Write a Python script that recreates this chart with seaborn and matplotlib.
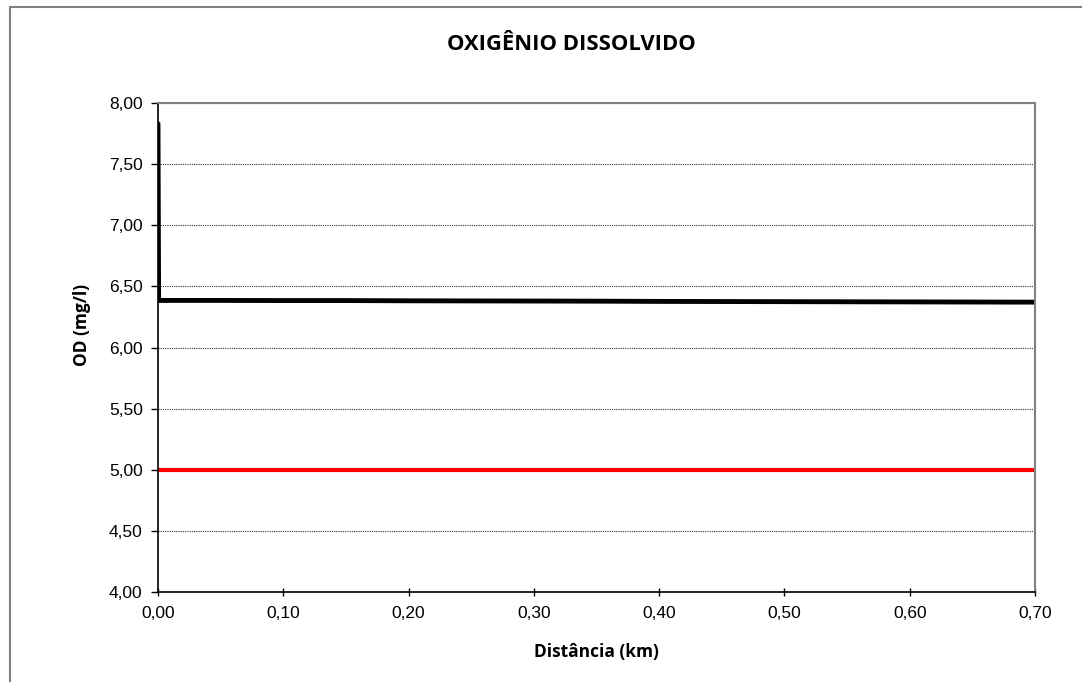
import matplotlib
matplotlib.use('Agg')
import matplotlib.pyplot as plt
import seaborn as sns
import pandas as pd
from matplotlib.ticker import FuncFormatter, MultipleLocator
from matplotlib.lines import Line2D

# Data
distancia = [0.0, 0.0005, 0.05, 0.10, 0.15, 0.20, 0.25, 0.30, 0.35, 0.40,
             0.45, 0.50, 0.55, 0.60, 0.65, 0.70]
od = [7.83, 6.385, 6.385, 6.384, 6.384, 6.382, 6.381, 6.380, 6.379, 6.377,
      6.376, 6.375, 6.374, 6.373, 6.372, 6.371]
limite_x = [0.0, 0.70]
limite_y = [5.0, 5.0]

sns.set_style("white")
plt.rcParams['font.family'] = ['Liberation Sans', 'DejaVu Sans']
plt.rcParams['text.color'] = 'black'
plt.rcParams['axes.labelcolor'] = 'black'

df_od = pd.DataFrame({'dist': distancia, 'od': od})
df_lim = pd.DataFrame({'dist': limite_x, 'od': limite_y})

fig = plt.figure(figsize=(10.82, 6.82), dpi=100)
ax = fig.add_axes([158 / 1082, 90 / 682, 877 / 1082, 489 / 682])

sns.lineplot(data=df_lim, x='dist', y='od', ax=ax, color='#ff0000', linewidth=3)
sns.lineplot(data=df_od, x='dist', y='od', ax=ax, color='black', linewidth=3.5)

ax.set_xlim(0, 0.70)
ax.set_ylim(4.0, 8.0)
ax.xaxis.set_major_locator(MultipleLocator(0.10))
ax.yaxis.set_major_locator(MultipleLocator(0.50))
fmt = FuncFormatter(lambda v, p: f"{v:.2f}".replace('.', ','))
ax.xaxis.set_major_formatter(fmt)
ax.yaxis.set_major_formatter(fmt)

ax.grid(axis='y', color='#333333', linestyle=(0, (1, 1)), linewidth=0.8)
ax.set_axisbelow(True)

for side in ['top', 'right']:
    ax.spines[side].set_color('#808080')
    ax.spines[side].set_linewidth(1.5)
for side in ['left', 'bottom']:
    ax.spines[side].set_color('black')
    ax.spines[side].set_linewidth(1.2)

ax.tick_params(axis='y', direction='out', length=5, width=1, colors='black',
               labelsize=12.5, left=True, pad=6)
ax.tick_params(axis='x', direction='inout', length=6, width=1, colors='black',
               labelsize=12.5, bottom=True, pad=7)

bold_font = ['Open Sans', 'DejaVu Sans']
ax.set_xlabel('Distância (km)', fontsize=12.5, fontweight='bold',
              family=bold_font, labelpad=16, color='black')
ax.set_ylabel('OD (mg/l)', fontsize=12.5, fontweight='bold', family=bold_font,
              color='black')
ax.yaxis.set_label_coords(-0.076, 0.546)

fig.text(571 / 1082, 1 - 45 / 682, 'OXIGÊNIO DISSOLVIDO', fontsize=15.8,
         fontweight='bold', family=bold_font, ha='center', va='center',
         color='black')

# outer chart-area border (left and top visible)
fig.add_artist(Line2D([10 / 1082, 10 / 1082], [0, 1 - 7 / 682],
                      transform=fig.transFigure, color='#808080', linewidth=1.5))
fig.add_artist(Line2D([10 / 1082, 1], [1 - 7 / 682, 1 - 7 / 682],
                      transform=fig.transFigure, color='#808080', linewidth=1.5))

fig.savefig('out.png', dpi=100)
